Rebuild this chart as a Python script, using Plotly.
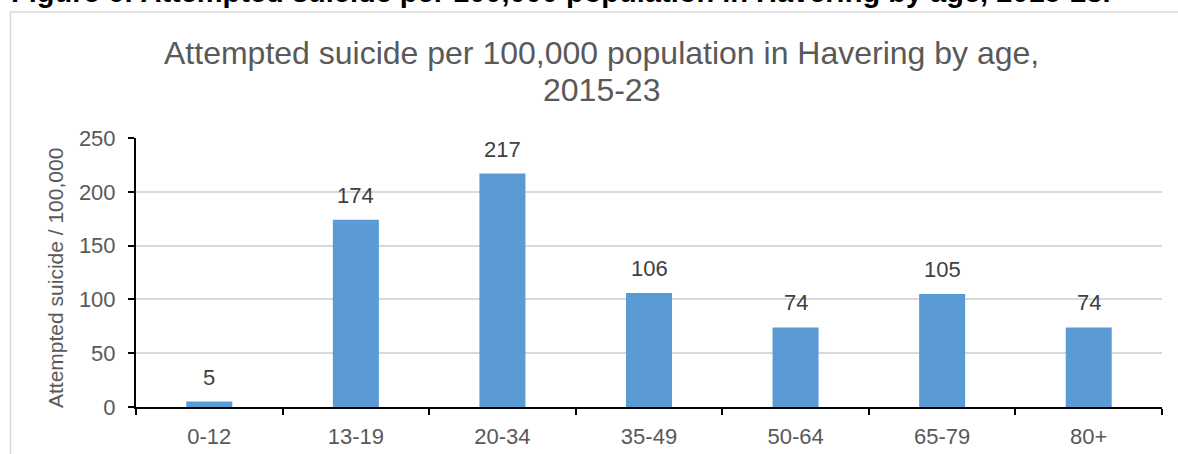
import plotly.graph_objects as go

# Attempted suicide rate per 100,000 population, Havering, 2015-23
age_groups = ["0-12", "13-19", "20-34", "35-49", "50-64", "65-79", "80+"]
rate_per_100k = [5, 174, 217, 106, 74, 105, 74]
y_ticks = [0, 50, 100, 150, 200, 250]

W, H = 1178, 454
L, R, T, B = 136, 1162, 138, 407   # plot area in pixels

FONT = "Arial, Liberation Sans, sans-serif"
BAR = "#5B9BD5"
GREY = "#595959"


def px_x(px):
    return (px - L) / (R - L)


def px_y(py):
    return (B - py) / (B - T)


fig = go.Figure(
    go.Bar(
        x=age_groups,
        y=rate_per_100k,
        marker=dict(color=BAR, line=dict(width=0)),
        width=0.314,
        hoverinfo="x+y",
    )
)

annotations = []
# value labels above each bar
for cat, val in zip(age_groups, rate_per_100k):
    annotations.append(dict(
        x=cat, y=val, xref="x", yref="y", text=str(val), showarrow=False,
        yanchor="bottom", yshift=10, font=dict(family=FONT, size=22, color="#404040"),
    ))

# chart title (two lines)
annotations.append(dict(
    x=px_x(601), y=px_y(53), xref="paper", yref="paper", showarrow=False,
    text="Attempted suicide per 100,000 population in Havering by age,",
    xanchor="center", yanchor="middle", font=dict(family=FONT, size=32, color=GREY),
))
annotations.append(dict(
    x=px_x(601), y=px_y(90), xref="paper", yref="paper", showarrow=False,
    text="2015-23",
    xanchor="center", yanchor="middle", font=dict(family=FONT, size=32, color=GREY),
))

# y-axis title
annotations.append(dict(
    x=px_x(55), y=px_y(278), xref="paper", yref="paper", showarrow=False,
    text="Attempted suicide / 100,000", textangle=-90,
    xanchor="center", yanchor="middle", font=dict(family=FONT, size=21, color=GREY),
))

# document caption above the chart frame
annotations.append(dict(
    x=px_x(9), y=px_y(-8), xref="paper", yref="paper", showarrow=False,
    text="<b>Figure 6: Attempted suicide per 100,000 population in Havering by age, 2015-23.</b>",
    xanchor="left", yanchor="middle", font=dict(family=FONT, size=29, color="#000000"),
))

shapes = [
    # chart frame
    dict(type="rect", xref="paper", yref="paper",
         x0=px_x(10.5), x1=px_x(W + 20), y0=px_y(12), y1=px_y(H + 20),
         line=dict(color="#D9D9D9", width=1.5), fillcolor="rgba(0,0,0,0)", layer="below"),
]

fig.update_layout(
    width=W, height=H,
    margin=dict(l=L, r=W - R, t=T, b=H - B, pad=0),
    paper_bgcolor="white", plot_bgcolor="white",
    showlegend=False,
    annotations=annotations,
    shapes=shapes,
    xaxis=dict(
        type="category",
        automargin=False,
        showgrid=False,
        showline=True, linecolor="black", linewidth=2,
        ticks="outside", tickson="boundaries", ticklen=6, tickwidth=2, tickcolor="black",
        tickfont=dict(family=FONT, size=22, color=GREY),
        ticklabelstandoff=9,
        range=[-0.5, len(age_groups) - 0.5],
    ),
    yaxis=dict(
        range=[0, 250],
        automargin=False,
        tickvals=y_ticks,
        showgrid=True, gridcolor="#D9D9D9", gridwidth=1.5,
        showline=True, linecolor="black", linewidth=2,
        ticks="outside", ticklen=6, tickwidth=2, tickcolor="black",
        tickfont=dict(family=FONT, size=22, color=GREY),
        ticklabelstandoff=8,
        zeroline=False,
    ),
)

fig.write_html("out.html")
